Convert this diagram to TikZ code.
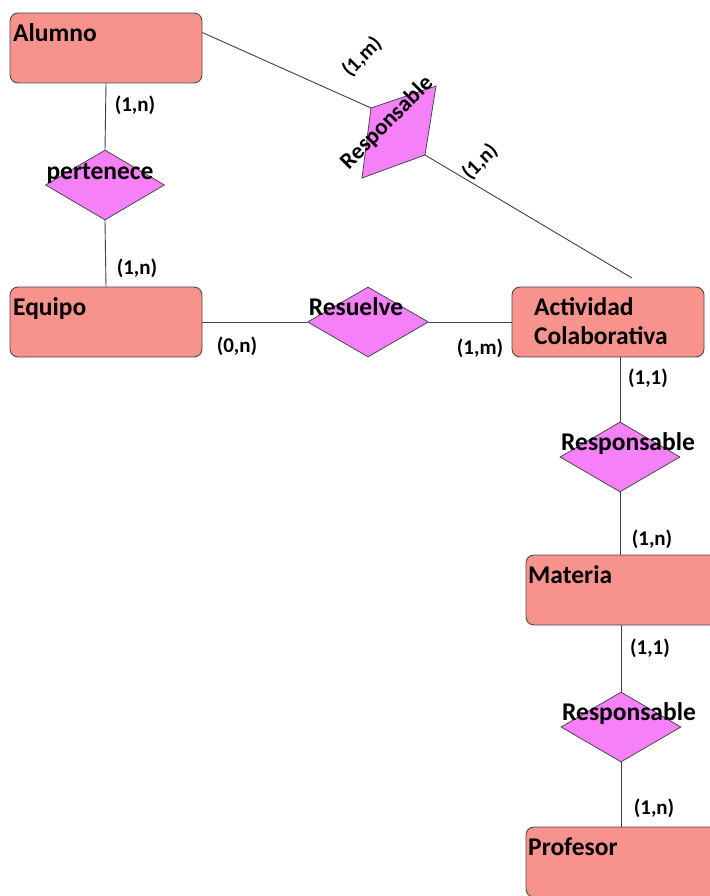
\documentclass[tikz,border=0pt]{standalone}
\usepackage{fontspec}
\setmainfont{Carlito}
\usetikzlibrary{shapes.geometric}
\definecolor{entfill}{HTML}{F7928D}
\definecolor{relfill}{HTML}{F580F8}
\definecolor{edgegray}{HTML}{4A4A4A}
\tikzset{
  entity/.style={draw=edgegray, fill=entfill, line width=0.9pt, rounded corners=8pt,
                 inner sep=0pt, minimum width=192pt, minimum height=70pt},
  relation/.style={diamond, draw=edgegray, fill=relfill, line width=0.8pt, inner sep=0pt,
                   minimum width=120pt, minimum height=70pt},
  conn/.style={draw=black!75, line width=0.9pt},
  etext/.style={font=\fontsize{25.5}{30}\selectfont\bfseries, inner sep=0pt, anchor=base west},
  rtext/.style={font=\fontsize{25.5}{30}\selectfont\bfseries, inner sep=0pt, anchor=base},
  card/.style={font=\fontsize{21}{25}\selectfont\bfseries, inner sep=0pt}
}
\begin{document}
\begin{tikzpicture}[x=1pt,y=-1pt]
\useasboundingbox (0,0) rectangle (709,896);

% entities
\node[entity] (alumno) at (106,48) {};
\node[entity] (equipo) at (106,322) {};
\node[entity] (actividad) at (608,322) {};
\node[entity, minimum width=200pt] (materia) at (626,590) {};
\node[entity, minimum width=200pt] (profesor) at (626,862) {};

% relationships
\node[relation, minimum width=119pt] (pertenece) at (105,185) {};
\node[relation, minimum width=121pt] (resuelve) at (368,322) {};
\node[relation] (resp1) at (620,457) {};
\node[relation] (resp2) at (621,727) {};

% skewed relationship between Alumno and Actividad
\coordinate (p1) at (371,108);
\coordinate (p2) at (436,86);
\coordinate (p3) at (425,155);
\coordinate (p4) at (362,178);
\coordinate (actend) at (632,278);
\filldraw[draw=edgegray, fill=relfill, line width=0.8pt] (p1) -- (p2) -- (p3) -- (p4) -- cycle;

% connectors
\draw[conn] (alumno.south) -- (pertenece.north);
\draw[conn] (pertenece.south) -- (equipo.north);
\draw[conn] (equipo.east) -- (resuelve.west);
\draw[conn] (resuelve.east) -- (actividad.west);
\draw[conn] ([yshift=-20pt]alumno.north east) -- (p1);
\draw[conn] (p3) -- (actend);
\draw[conn] (actividad.south -| resp1.north) -- (resp1.north);
\draw[conn] (resp1.south) -- (resp1.south |- materia.north);
\draw[conn] (materia.south -| resp2.north) -- (resp2.north);
\draw[conn] (resp2.south) -- (resp2.south |- profesor.north);

% entity names
\node[etext] (talumno) at (13,42) {Alumno};
\node[etext] (tequipo) at (13,315) {Equipo};
\node[etext] (tact1) at (534,315) {Actividad};
\node[etext] (tact2) at (534,344) {Colaborativa};
\node[etext] (tmateria) at (528,583) {Materia};
\node[etext] (tprofesor) at (528,855) {Profesor};

% relationship names
\node[rtext] (tpert) at (100,180) {pertenece};
\node[rtext] (tres) at (356,315) {Resuelve};
\node[rtext] (tresp1) at (628,450) {Responsable};
\node[rtext] (tresp2) at (629,720) {Responsable};
\node[font=\fontsize{23}{28}\selectfont\bfseries, inner sep=0pt, rotate=45] (tresp0) at (387,123) {Responsable};

% cardinalities
\node[card] (c1) at (135,105) {(1,n)};
\node[card] (c2) at (137,268) {(1,n)};
\node[card] (c3) at (237,346) {(0,n)};
\node[card] (c4) at (480,348) {(1,m)};
\node[card] (c5) at (648,378) {(1,1)};
\node[card] (c6) at (652,539) {(1,n)};
\node[card] (c7) at (650,648) {(1,1)};
\node[card] (c8) at (654,808) {(1,n)};
\node[card, rotate=45] (c9) at (362,57) {(1,m)};
\node[card, rotate=45] (c10) at (480,162) {(1,n)};
\end{tikzpicture}
\end{document}
